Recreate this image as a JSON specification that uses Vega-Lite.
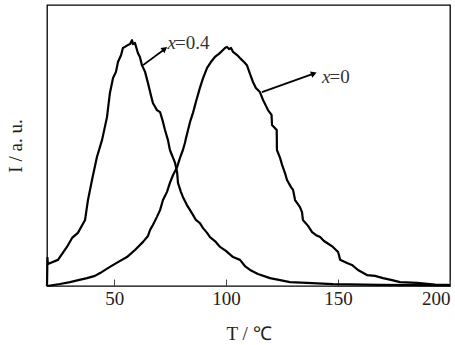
{
  "$schema": "https://vega.github.io/schema/vega-lite/v6.json",
  "autosize": {"type": "none"},
  "padding": {"left": 47, "top": 5, "right": 5, "bottom": 59},
  "width": 403,
  "height": 281,
  "config": {
    "font": "Liberation Serif",
    "view": {"stroke": "#000", "strokeWidth": 1.3},
    "axis": {"grid": false, "domain": false, "labelColor": "#222", "titleColor": "#222", "labelFont": "Liberation Serif", "titleFont": "Liberation Serif", "titleFontWeight": "normal"}
  },
  "datasets": {
    "curves": [
      {"T": 20, "I": 0, "s": "x=0.4"},
      {"T": 20.2, "I": 10.0, "s": "x=0.4"},
      {"T": 20.4, "I": 7.8, "s": "x=0.4"},
      {"T": 24.9, "I": 9.3, "s": "x=0.4"},
      {"T": 28.9, "I": 13.9, "s": "x=0.4"},
      {"T": 31.2, "I": 17.1, "s": "x=0.4"},
      {"T": 33.8, "I": 18.9, "s": "x=0.4"},
      {"T": 37.0, "I": 23.5, "s": "x=0.4"},
      {"T": 38.3, "I": 30.6, "s": "x=0.4"},
      {"T": 40.1, "I": 37.7, "s": "x=0.4"},
      {"T": 42.3, "I": 45.9, "s": "x=0.4"},
      {"T": 44.6, "I": 52.0, "s": "x=0.4"},
      {"T": 46.8, "I": 60.1, "s": "x=0.4"},
      {"T": 48.1, "I": 68.7, "s": "x=0.4"},
      {"T": 49.5, "I": 74.0, "s": "x=0.4"},
      {"T": 50.8, "I": 76.2, "s": "x=0.4"},
      {"T": 51.7, "I": 79.7, "s": "x=0.4"},
      {"T": 53.1, "I": 82.2, "s": "x=0.4"},
      {"T": 53.9, "I": 84.7, "s": "x=0.4"},
      {"T": 54.8, "I": 85.1, "s": "x=0.4"},
      {"T": 56.2, "I": 85.8, "s": "x=0.4"},
      {"T": 57.1, "I": 86.1, "s": "x=0.4"},
      {"T": 58.0, "I": 87.5, "s": "x=0.4"},
      {"T": 58.4, "I": 86.1, "s": "x=0.4"},
      {"T": 59.3, "I": 86.5, "s": "x=0.4"},
      {"T": 60.2, "I": 84.0, "s": "x=0.4"},
      {"T": 60.6, "I": 82.9, "s": "x=0.4"},
      {"T": 61.5, "I": 81.5, "s": "x=0.4"},
      {"T": 62.4, "I": 78.6, "s": "x=0.4"},
      {"T": 63.8, "I": 76.2, "s": "x=0.4"},
      {"T": 65.1, "I": 72.2, "s": "x=0.4"},
      {"T": 66.5, "I": 67.6, "s": "x=0.4"},
      {"T": 67.3, "I": 65.1, "s": "x=0.4"},
      {"T": 69.1, "I": 62.6, "s": "x=0.4"},
      {"T": 70.5, "I": 61.9, "s": "x=0.4"},
      {"T": 71.8, "I": 58.4, "s": "x=0.4"},
      {"T": 72.7, "I": 55.5, "s": "x=0.4"},
      {"T": 74.0, "I": 52.0, "s": "x=0.4"},
      {"T": 74.9, "I": 48.4, "s": "x=0.4"},
      {"T": 77.2, "I": 43.8, "s": "x=0.4"},
      {"T": 78.1, "I": 40.6, "s": "x=0.4"},
      {"T": 78.5, "I": 36.7, "s": "x=0.4"},
      {"T": 79.8, "I": 33.5, "s": "x=0.4"},
      {"T": 80.7, "I": 31.7, "s": "x=0.4"},
      {"T": 82.5, "I": 28.8, "s": "x=0.4"},
      {"T": 83.9, "I": 27.0, "s": "x=0.4"},
      {"T": 85.2, "I": 25.3, "s": "x=0.4"},
      {"T": 86.5, "I": 23.5, "s": "x=0.4"},
      {"T": 88.3, "I": 22.4, "s": "x=0.4"},
      {"T": 89.7, "I": 20.6, "s": "x=0.4"},
      {"T": 91.5, "I": 18.9, "s": "x=0.4"},
      {"T": 92.8, "I": 17.4, "s": "x=0.4"},
      {"T": 95.0, "I": 16.0, "s": "x=0.4"},
      {"T": 97.3, "I": 13.9, "s": "x=0.4"},
      {"T": 99.9, "I": 12.5, "s": "x=0.4"},
      {"T": 103.1, "I": 10.3, "s": "x=0.4"},
      {"T": 106.2, "I": 9.3, "s": "x=0.4"},
      {"T": 108.4, "I": 7.1, "s": "x=0.4"},
      {"T": 110.7, "I": 5.7, "s": "x=0.4"},
      {"T": 114.2, "I": 4.3, "s": "x=0.4"},
      {"T": 119.6, "I": 2.8, "s": "x=0.4"},
      {"T": 124.1, "I": 2.1, "s": "x=0.4"},
      {"T": 128.5, "I": 1.4, "s": "x=0.4"},
      {"T": 136.1, "I": 1.1, "s": "x=0.4"},
      {"T": 147.7, "I": 0.7, "s": "x=0.4"},
      {"T": 168.7, "I": 0.4, "s": "x=0.4"},
      {"T": 200, "I": 0.2, "s": "x=0.4"},
      {"T": 20, "I": 0, "s": "x=0"},
      {"T": 25.8, "I": 0.7, "s": "x=0"},
      {"T": 30.3, "I": 1.4, "s": "x=0"},
      {"T": 34.0, "I": 2.1, "s": "x=0"},
      {"T": 37.9, "I": 2.8, "s": "x=0"},
      {"T": 41.4, "I": 3.6, "s": "x=0"},
      {"T": 43.7, "I": 4.6, "s": "x=0"},
      {"T": 48.1, "I": 6.8, "s": "x=0"},
      {"T": 51.7, "I": 8.5, "s": "x=0"},
      {"T": 55.7, "I": 10.3, "s": "x=0"},
      {"T": 59.3, "I": 12.8, "s": "x=0"},
      {"T": 62.9, "I": 15.7, "s": "x=0"},
      {"T": 65.1, "I": 17.8, "s": "x=0"},
      {"T": 66.0, "I": 19.9, "s": "x=0"},
      {"T": 67.3, "I": 21.7, "s": "x=0"},
      {"T": 69.1, "I": 24.6, "s": "x=0"},
      {"T": 70.5, "I": 27.0, "s": "x=0"},
      {"T": 71.8, "I": 30.6, "s": "x=0"},
      {"T": 73.6, "I": 33.5, "s": "x=0"},
      {"T": 74.9, "I": 36.7, "s": "x=0"},
      {"T": 76.3, "I": 39.5, "s": "x=0"},
      {"T": 78.1, "I": 42.3, "s": "x=0"},
      {"T": 79.4, "I": 45.6, "s": "x=0"},
      {"T": 80.7, "I": 48.4, "s": "x=0"},
      {"T": 81.6, "I": 50.9, "s": "x=0"},
      {"T": 81.9, "I": 52.0, "s": "x=0"},
      {"T": 83.0, "I": 55.5, "s": "x=0"},
      {"T": 83.9, "I": 58.4, "s": "x=0"},
      {"T": 85.2, "I": 61.6, "s": "x=0"},
      {"T": 86.5, "I": 65.5, "s": "x=0"},
      {"T": 88.3, "I": 70.5, "s": "x=0"},
      {"T": 89.7, "I": 74.0, "s": "x=0"},
      {"T": 91.5, "I": 77.6, "s": "x=0"},
      {"T": 93.2, "I": 79.7, "s": "x=0"},
      {"T": 95.0, "I": 81.5, "s": "x=0"},
      {"T": 96.8, "I": 82.6, "s": "x=0"},
      {"T": 98.6, "I": 84.0, "s": "x=0"},
      {"T": 99.5, "I": 84.7, "s": "x=0"},
      {"T": 100.4, "I": 85.1, "s": "x=0"},
      {"T": 101.3, "I": 84.3, "s": "x=0"},
      {"T": 102.2, "I": 84.7, "s": "x=0"},
      {"T": 103.1, "I": 83.3, "s": "x=0"},
      {"T": 104.9, "I": 82.2, "s": "x=0"},
      {"T": 106.2, "I": 81.1, "s": "x=0"},
      {"T": 108.0, "I": 79.7, "s": "x=0"},
      {"T": 109.3, "I": 78.6, "s": "x=0"},
      {"T": 110.7, "I": 75.4, "s": "x=0"},
      {"T": 112.0, "I": 72.6, "s": "x=0"},
      {"T": 113.3, "I": 70.5, "s": "x=0"},
      {"T": 115.1, "I": 69.0, "s": "x=0"},
      {"T": 116.5, "I": 66.2, "s": "x=0"},
      {"T": 117.8, "I": 64.1, "s": "x=0"},
      {"T": 118.7, "I": 62.6, "s": "x=0"},
      {"T": 120.3, "I": 60.9, "s": "x=0"},
      {"T": 120.4, "I": 59.1, "s": "x=0"},
      {"T": 120.5, "I": 57.3, "s": "x=0"},
      {"T": 122.6, "I": 55.5, "s": "x=0"},
      {"T": 122.7, "I": 48.4, "s": "x=0"},
      {"T": 124.1, "I": 45.6, "s": "x=0"},
      {"T": 125.0, "I": 43.1, "s": "x=0"},
      {"T": 126.3, "I": 40.2, "s": "x=0"},
      {"T": 127.2, "I": 37.7, "s": "x=0"},
      {"T": 129.0, "I": 35.2, "s": "x=0"},
      {"T": 129.9, "I": 34.2, "s": "x=0"},
      {"T": 130.8, "I": 30.6, "s": "x=0"},
      {"T": 133.0, "I": 28.1, "s": "x=0"},
      {"T": 133.9, "I": 26.3, "s": "x=0"},
      {"T": 134.3, "I": 23.5, "s": "x=0"},
      {"T": 136.6, "I": 21.4, "s": "x=0"},
      {"T": 138.4, "I": 19.2, "s": "x=0"},
      {"T": 140.2, "I": 18.1, "s": "x=0"},
      {"T": 142.0, "I": 17.4, "s": "x=0"},
      {"T": 143.7, "I": 16.0, "s": "x=0"},
      {"T": 145.1, "I": 15.3, "s": "x=0"},
      {"T": 147.7, "I": 13.9, "s": "x=0"},
      {"T": 150.0, "I": 12.1, "s": "x=0"},
      {"T": 150.4, "I": 11.0, "s": "x=0"},
      {"T": 150.9, "I": 9.3, "s": "x=0"},
      {"T": 154.0, "I": 8.2, "s": "x=0"},
      {"T": 156.2, "I": 7.5, "s": "x=0"},
      {"T": 158.9, "I": 5.7, "s": "x=0"},
      {"T": 162.9, "I": 3.9, "s": "x=0"},
      {"T": 166.5, "I": 3.6, "s": "x=0"},
      {"T": 170.1, "I": 2.8, "s": "x=0"},
      {"T": 174.1, "I": 2.1, "s": "x=0"},
      {"T": 177.7, "I": 1.4, "s": "x=0"},
      {"T": 185.3, "I": 1.1, "s": "x=0"},
      {"T": 193.3, "I": 0.5, "s": "x=0"},
      {"T": 199.1, "I": 0.4, "s": "x=0"},
      {"T": 200, "I": 0.2, "s": "x=0"}
    ],
    "arrows": [
      {"s": "x=0.4", "T": 62.9, "I": 78.6, "T2": 72.2, "I2": 84.1},
      {"s": "x=0", "T": 116.0, "I": 69.0, "T2": 138.5, "I2": 75.4}
    ],
    "heads": [
      {"s": "x=0.4", "T": 72.6, "I": 84.4},
      {"s": "x=0", "T": 139.2, "I": 75.6}
    ],
    "italic": [
      {"T": 73.8, "I": 86.3, "t": "x"},
      {"T": 142.8, "I": 74.4, "t": "x"}
    ],
    "plain": [
      {"T": 77.2, "I": 86.3, "t": "=0.4"},
      {"T": 146.2, "I": 74.4, "t": "=0"}
    ]
  },
  "layer": [
    {
      "data": {"name": "curves"},
      "mark": {"type": "line", "color": "#000", "strokeWidth": 2.2, "strokeJoin": "round"},
      "encoding": {
        "x": {"field": "T", "type": "quantitative", "scale": {"domain": [20, 200], "nice": false},
          "axis": {"values": [50, 100, 150, 200], "tickSize": -7, "tickColor": "#444", "labelFontSize": 19, "labelPadding": 10, "title": "T / ℃", "titleFontSize": 19, "titlePadding": 16}},
        "y": {"field": "I", "type": "quantitative", "scale": {"domain": [0, 100], "nice": false},
          "axis": {"ticks": false, "labels": false, "title": "I / a. u.", "titleFontSize": 19, "titlePadding": 22}},
        "detail": {"field": "s"}
      }
    },
    {
      "data": {"name": "arrows"},
      "mark": {"type": "rule", "color": "#000", "strokeWidth": 1.8},
      "encoding": {
        "x": {"field": "T", "type": "quantitative"},
        "y": {"field": "I", "type": "quantitative"},
        "x2": {"field": "T2"},
        "y2": {"field": "I2"}
      }
    },
    {
      "data": {"name": "heads"},
      "transform": [{"filter": "datum.s === 'x=0.4'"}],
      "mark": {"type": "point", "shape": "triangle-right", "filled": true, "color": "#000", "opacity": 1, "size": 45, "angle": 323},
      "encoding": {
        "x": {"field": "T", "type": "quantitative"},
        "y": {"field": "I", "type": "quantitative"}
      }
    },
    {
      "data": {"name": "heads"},
      "transform": [{"filter": "datum.s === 'x=0'"}],
      "mark": {"type": "point", "shape": "triangle-right", "filled": true, "color": "#000", "opacity": 1, "size": 45, "angle": 340},
      "encoding": {
        "x": {"field": "T", "type": "quantitative"},
        "y": {"field": "I", "type": "quantitative"}
      }
    },
    {
      "data": {"name": "italic"},
      "mark": {"type": "text", "font": "Liberation Serif", "fontStyle": "italic", "fontSize": 19, "align": "left", "baseline": "middle", "color": "#333"},
      "encoding": {
        "x": {"field": "T", "type": "quantitative"},
        "y": {"field": "I", "type": "quantitative"},
        "text": {"field": "t"}
      }
    },
    {
      "data": {"name": "plain"},
      "mark": {"type": "text", "font": "Liberation Serif", "fontSize": 19, "align": "left", "baseline": "middle", "color": "#333"},
      "encoding": {
        "x": {"field": "T", "type": "quantitative"},
        "y": {"field": "I", "type": "quantitative"},
        "text": {"field": "t"}
      }
    }
  ]
}
